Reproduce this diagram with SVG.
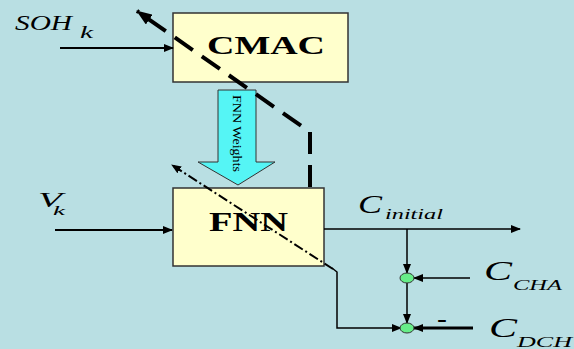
<svg xmlns="http://www.w3.org/2000/svg" width="574" height="349" viewBox="0 0 574 349">
<defs>
<style>
.box{fill:#ffffcc;stroke:#333;stroke-width:1.5}
.ln{fill:none;stroke:#000}
.lbl{font-family:"Liberation Serif",serif;font-style:italic;fill:#000}
.ttl{font-family:"Liberation Serif",serif;font-weight:bold;fill:#000}
.dot{fill:#66ee88;stroke:#333;stroke-width:1}
</style>
<marker id="ah" markerWidth="10" markerHeight="8" refX="9" refY="4" orient="auto" markerUnits="userSpaceOnUse">
<path d="M0,0 L10,4 L0,8 Z" fill="#000"/>
</marker>
<marker id="ahb" markerWidth="16" markerHeight="12" refX="15" refY="6" orient="auto" markerUnits="userSpaceOnUse">
<path d="M0,0 L16,6 L0,12 Z" fill="#000"/>
</marker>
</defs>
<rect width="574" height="349" fill="#b9dfe3"/>
<g id="cmac">
<rect class="box" x="173" y="13" width="175" height="69"/>
<text class="ttl" x="207" y="54" font-size="26" textLength="118" lengthAdjust="spacingAndGlyphs">CMAC</text>
</g>
<g id="fnn">
<rect class="box" x="173" y="188" width="151" height="78"/>
<text class="ttl" x="209" y="231" font-size="27" textLength="79" lengthAdjust="spacingAndGlyphs">FNN</text>
</g>
<g id="weights">
<path d="M218,90 L256,90 L256,162 L275,162 L238,185 L198,162 L218,162 Z" fill="#55f5f5" stroke="#333" stroke-width="1"/>
<text font-family="Liberation Serif,serif" font-size="12" transform="translate(233,95) rotate(90)" textLength="77" lengthAdjust="spacingAndGlyphs">FNN Weights</text>
</g>
<g id="labels">
<text class="lbl" x="15" y="30" font-size="22" textLength="57" lengthAdjust="spacingAndGlyphs">SOH</text>
<text class="lbl" x="80" y="38" font-size="16" textLength="13" lengthAdjust="spacingAndGlyphs">k</text>
<text class="lbl" x="38" y="207" font-size="22" textLength="24" lengthAdjust="spacingAndGlyphs">V</text>
<text class="lbl" x="53" y="215" font-size="13" textLength="12" lengthAdjust="spacingAndGlyphs">k</text>
<text class="lbl" x="358" y="213" font-size="26" textLength="24" lengthAdjust="spacingAndGlyphs">C</text>
<text class="lbl" x="385" y="219" font-size="14" textLength="58" lengthAdjust="spacingAndGlyphs">initial</text>
<text class="lbl" x="484" y="280" font-size="27" textLength="28" lengthAdjust="spacingAndGlyphs">C</text>
<text class="lbl" x="513" y="290" font-size="15" textLength="49" lengthAdjust="spacingAndGlyphs">CHA</text>
<text class="lbl" x="489" y="337" font-size="27" textLength="28" lengthAdjust="spacingAndGlyphs">C</text>
<text class="lbl" x="517" y="347" font-size="15" textLength="55" lengthAdjust="spacingAndGlyphs">DCH</text>
<text font-family="Liberation Sans,sans-serif" font-weight="bold" x="437" y="325" font-size="16" textLength="10" lengthAdjust="spacingAndGlyphs">-</text>
</g>
<g id="connectors">
<line class="ln" x1="60" y1="48" x2="173" y2="48" style="stroke-width:2" marker-end="url(#ah)"/>
<line class="ln" x1="55" y1="230" x2="172" y2="230" style="stroke-width:2" marker-end="url(#ah)"/>
<path class="ln" d="M310,187 L310,132 L137,11" style="stroke-width:4;stroke-dasharray:22,11" marker-end="url(#ahb)"/>
<line class="ln" x1="333" y1="269" x2="172" y2="165" style="stroke-width:2;stroke-dasharray:10,3,2,3" marker-end="url(#ah)"/>
<path class="ln" d="M332,268 L337,272 L337,328 L401,328" style="stroke-width:1.5" marker-end="url(#ah)"/>
<line class="ln" x1="324" y1="229" x2="520" y2="229" style="stroke-width:1.5" marker-end="url(#ah)"/>
<line class="ln" x1="407" y1="229" x2="407" y2="273" style="stroke-width:1.5" marker-end="url(#ah)"/>
<line class="ln" x1="407" y1="283" x2="407" y2="323" style="stroke-width:1.5" marker-end="url(#ah)"/>
<line class="ln" x1="470" y1="278" x2="414" y2="278" style="stroke-width:1.5" marker-end="url(#ah)"/>
<line class="ln" x1="473" y1="328" x2="414" y2="328" style="stroke-width:3" marker-end="url(#ah)"/>
<ellipse class="dot" cx="407" cy="278" rx="7" ry="5"/>
<ellipse class="dot" cx="407" cy="328" rx="7" ry="5"/>
</g>
</svg>
